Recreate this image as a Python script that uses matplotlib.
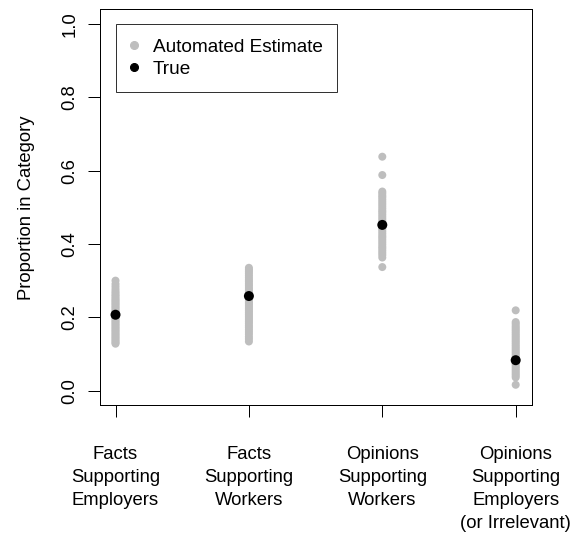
import matplotlib.pyplot as plt
from matplotlib.lines import Line2D

plt.rcParams['font.family'] = ['Liberation Sans', 'DejaVu Sans']

categories = ["Facts\nSupporting\nEmployers",
              "Facts\nSupporting\nWorkers",
              "Opinions\nSupporting\nWorkers",
              "Opinions\nSupporting\nEmployers\n(or Irrelevant)"]

# automated estimates (one column per category)
est_facts_employers = [0.300, 0.291, 0.284, 0.277, 0.271, 0.266, 0.261, 0.257, 0.252,
                       0.248, 0.244, 0.240, 0.236, 0.232, 0.228, 0.224, 0.220, 0.216,
                       0.212, 0.208, 0.203, 0.199, 0.195, 0.191, 0.187, 0.183, 0.179,
                       0.175, 0.171, 0.167, 0.163, 0.159, 0.155, 0.151, 0.147, 0.143,
                       0.139, 0.135, 0.131, 0.128]
est_facts_workers = [0.335, 0.330, 0.325, 0.320, 0.314, 0.308, 0.302, 0.297, 0.291,
                     0.286, 0.280, 0.275, 0.270, 0.266, 0.262, 0.257, 0.252, 0.247,
                     0.242, 0.238, 0.233, 0.228, 0.223, 0.218, 0.213, 0.208, 0.203,
                     0.198, 0.193, 0.188, 0.183, 0.177, 0.172, 0.166, 0.160, 0.154,
                     0.147, 0.141, 0.134]
est_opinions_workers = [0.638, 0.588, 0.543, 0.538, 0.532, 0.527, 0.521, 0.515, 0.509,
                        0.503, 0.497, 0.491, 0.486, 0.480, 0.474, 0.468, 0.462, 0.456,
                        0.450, 0.445, 0.440, 0.434, 0.428, 0.422, 0.417, 0.411, 0.405,
                        0.399, 0.393, 0.388, 0.382, 0.376, 0.370, 0.363, 0.337]
est_opinions_employers = [0.219, 0.187, 0.182, 0.176, 0.171, 0.166, 0.161, 0.156, 0.151,
                          0.146, 0.141, 0.136, 0.131, 0.126, 0.121, 0.116, 0.111, 0.106,
                          0.101, 0.096, 0.091, 0.086, 0.081, 0.076, 0.071, 0.066, 0.061,
                          0.056, 0.051, 0.046, 0.041, 0.036, 0.016]
true_values = [0.207, 0.258, 0.452, 0.083]

estimates = [est_facts_employers, est_facts_workers,
             est_opinions_workers, est_opinions_employers]

fig = plt.figure(figsize=(8, 533 / 72), dpi=72)
ax = fig.add_axes([99.5 / 576, (533 - 405.3) / 533, 432.2 / 576, 396 / 533])

for i, vals in enumerate(estimates):
    ax.scatter([i + 1] * len(vals), vals, s=64, color='#BEBEBE',
               edgecolors='none', zorder=2)
ax.scatter(range(1, 5), true_values, s=100, color='black',
           edgecolors='none', zorder=3)

ax.set_xlim(0.88, 4.12)
ax.set_ylim(-0.04, 1.04)
ax.set_xticks(range(1, 5))
ax.set_xticklabels(categories, fontsize=18.5, linespacing=1.45, va='top')
ax.set_yticks([0.0, 0.2, 0.4, 0.6, 0.8, 1.0])
ax.set_yticklabels(["0.0", "0.2", "0.4", "0.6", "0.8", "1.0"], fontsize=18.5,
                   rotation=90, va='center')
ax.tick_params(axis='y', length=12, width=1, pad=9)
ax.tick_params(axis='x', length=12, width=1, pad=29)
for s in ax.spines.values():
    s.set_linewidth(1)
ax.set_ylabel("Proportion in Category", fontsize=18.5, labelpad=26)

handles = [Line2D([], [], marker='o', ls='none', color='#BEBEBE', markersize=8),
           Line2D([], [], marker='o', ls='none', color='black', markersize=8)]
leg = ax.legend(handles, ["Automated Estimate", "True"], loc='upper left',
                bbox_to_anchor=(1, 1), bbox_transform=ax.transData,
                fontsize=19, frameon=True, fancybox=False, borderaxespad=0,
                borderpad=0.75, handlelength=0.45, handletextpad=0.75,
                labelspacing=0.25)
leg.get_frame().set_edgecolor('black')
leg.get_frame().set_linewidth(1)

plt.savefig("out.png", dpi=72)
